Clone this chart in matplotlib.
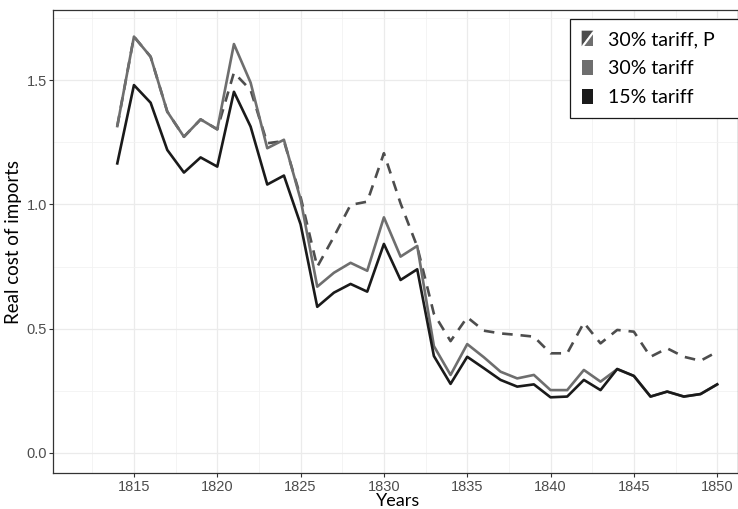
import matplotlib
matplotlib.use('Agg')
import numpy as np
from matplotlib import pyplot as plt
from matplotlib.legend_handler import HandlerBase
from matplotlib.patches import Polygon, Rectangle
from matplotlib.ticker import MultipleLocator

plt.rcParams['font.family'] = ['Liberation Sans', 'DejaVu Sans']

years = list(range(1814, 1851))

# 15% tariff (black)
tariff15 = [1.165, 1.480, 1.409, 1.219, 1.128, 1.189, 1.152, 1.453, 1.313, 1.080,
            1.116, 0.920, 0.588, 0.645, 0.680, 0.649, 0.841, 0.696, 0.739, 0.390,
            0.278, 0.387, 0.341, 0.294, 0.267, 0.276, 0.224, 0.227, 0.294, 0.253,
            0.338, 0.310, 0.227, 0.247, 0.227, 0.237, 0.276]
# 30% tariff (grey)
tariff30 = [1.315, 1.675, 1.594, 1.373, 1.272, 1.342, 1.302, 1.645, 1.490, 1.226,
            1.260, 1.020, 0.669, 0.725, 0.765, 0.733, 0.948, 0.790, 0.833, 0.430,
            0.314, 0.438, 0.385, 0.327, 0.300, 0.314, 0.253, 0.253, 0.334, 0.287,
            0.337, 0.310, 0.227, 0.247, 0.227, 0.237, 0.276]
# 30% tariff, P (dashed)
tariff30_p = [1.315, 1.675, 1.594, 1.373, 1.272, 1.342, 1.302, 1.530, 1.460, 1.246,
              1.255, 1.030, 0.749, 0.870, 0.998, 1.011, 1.206, 1.004, 0.830, 0.560,
              0.450, 0.546, 0.492, 0.481, 0.475, 0.468, 0.401, 0.401, 0.524, 0.441,
              0.495, 0.488, 0.387, 0.421, 0.387, 0.371, 0.407]

labels = ['30% tariff, P', '30% tariff', '15% tariff']
c_black = '#1a1a1a'
c_grey = '#6e6e6e'
c_dash = '#4d4d4d'

W, H = 738, 509
fig = plt.figure(figsize=(W / 100, H / 100), dpi=100)
ax = fig.add_axes([53.3 / W, 1 - 473.3 / H, 1 - 53.3 / W, (473.3 - 10) / H])

ax.plot(years, tariff30_p, color=c_dash, lw=1.9, ls=(0, (4, 3)), zorder=3)
ax.plot(years, tariff30, color=c_grey, lw=1.9, zorder=4)
ax.plot(years, tariff15, color=c_black, lw=1.9, zorder=5)

ax.set_xlim(1810.16, 1851.25)
ax.set_ylim(-0.0817, 1.782)
ax.xaxis.set_major_locator(MultipleLocator(5))
ax.xaxis.set_minor_locator(MultipleLocator(2.5))
ax.yaxis.set_major_locator(MultipleLocator(0.5))
ax.yaxis.set_minor_locator(MultipleLocator(0.25))
ax.set_yticks([0, 0.5, 1.0, 1.5])
ax.set_yticklabels(['0.0', '0.5', '1.0', '1.5'])
ax.grid(which='major', color='#ebebeb', lw=0.9, zorder=0)
ax.grid(which='minor', color='#f2f2f2', lw=0.6, zorder=0)
ax.set_axisbelow(True)
for s in ax.spines.values():
    s.set_color('#333333')
    s.set_linewidth(0.9)
ax.tick_params(which='major', length=3, width=0.8, color='#333333',
               labelcolor='#4d4d4d', labelsize=10.5, pad=1.5)
ax.tick_params(which='minor', length=0)

# x title sits right at the bottom edge, like the reference
fig.text(398 / W, 0.5 / H, 'Years', family='Lato', fontsize=13,
         ha='center', va='bottom')
ax.set_ylabel('Real cost of imports', family='Lato', fontsize=13.5, labelpad=3)


class SplitKey(HandlerBase):
    def create_artists(self, legend, orig_handle, xdescent, ydescent,
                       width, height, fontsize, trans):
        x0, y0 = -xdescent, -ydescent
        a = Polygon([[x0, y0 + height], [x0 + width, y0 + height], [x0, y0]],
                    closed=True, fc=c_dash, ec='none', transform=trans)
        b = Polygon([[x0 + width, y0 + height], [x0 + width, y0], [x0, y0]],
                    closed=True, fc=c_grey, ec='none', transform=trans)
        line = Polygon([[x0 + width * 0.1, y0], [x0 + width, y0 + height * 0.9]],
                       closed=False, fill=False, ec='white', lw=1.5, transform=trans)
        return [a, b, line]


class BoxKey(HandlerBase):
    def create_artists(self, legend, orig_handle, xdescent, ydescent,
                       width, height, fontsize, trans):
        r = Rectangle((-xdescent, -ydescent), width, height,
                      fc=orig_handle.get_facecolor(), ec='none', transform=trans)
        return [r]


h_p = Rectangle((0, 0), 1, 1, fc=c_dash)
h_30 = Rectangle((0, 0), 1, 1, fc=c_grey)
h_15 = Rectangle((0, 0), 1, 1, fc=c_black)
leg = ax.legend([h_p, h_30, h_15], labels,
                handler_map={h_p: SplitKey(), h_30: BoxKey(), h_15: BoxKey()},
                loc='upper left', bbox_to_anchor=(570 / W, 1 - 117 / H, 200 / W, 98 / H),
                mode='expand',
                bbox_transform=fig.transFigure, borderaxespad=0,
                prop={'family': 'Lato', 'size': 14},
                handlelength=0.6, handleheight=0.85, handletextpad=0.75,
                labelspacing=0.6, borderpad=0.6, fancybox=False,
                edgecolor='#1a1a1a', framealpha=1)
leg.get_frame().set_linewidth(0.9)
leg.set_zorder(10)

fig.savefig('out.png', dpi=100)
